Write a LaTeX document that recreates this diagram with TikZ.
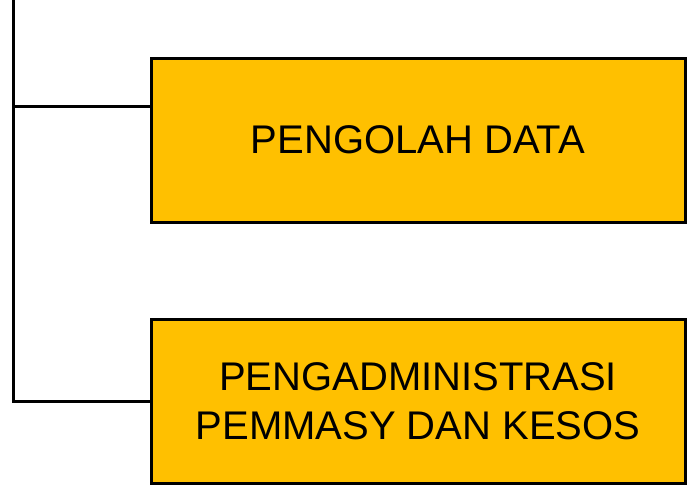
\documentclass[tikz,border=0pt]{standalone}
\usepackage{fontspec}
\setmainfont{Liberation Sans}
\usetikzlibrary{positioning,calc}
\definecolor{unitgold}{HTML}{FFC000}
\begin{document}
\begin{tikzpicture}[x=1pt, y=1pt,
  unit/.style={rectangle, draw=black, line width=3pt, fill=unitgold, minimum width=534pt, minimum height=164pt, align=center, inner sep=0pt, font=\fontsize{40}{49}\selectfont},
  link/.style={line width=3pt, draw=black}]
\useasboundingbox (0,0) rectangle (687,-487);
\node[unit] (olah) at (418,-140) {PENGOLAH DATA};
\node[unit, below=94pt of olah] (admin) {PENGADMINISTRASI\\PEMMASY DAN KESOS};
\coordinate (top) at (13,0);
\coordinate (olahin) at ($(olah.north west)!0.3!(olah.south west)$);
\draw[link] (top) |- (admin.west);
\draw[link] (olahin) -- (top |- olahin);
\end{tikzpicture}
\end{document}
